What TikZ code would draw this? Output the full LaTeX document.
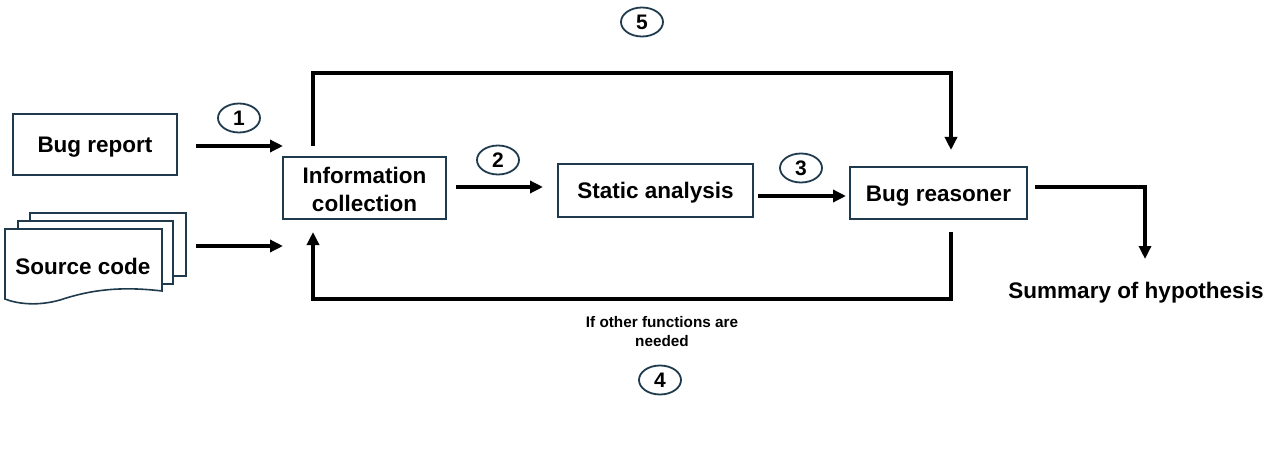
\documentclass[tikz,border=0pt]{standalone}
\usepackage{fontspec}
\setmainfont{Liberation Sans}
\usetikzlibrary{arrows.meta,shapes.geometric}
\definecolor{edge}{HTML}{1F3A4D}
\tikzset{
  box/.style={draw=edge, line width=1.8pt, fill=white, font=\bfseries\fontsize{22.5}{26}\selectfont, inner sep=0pt, align=center, text height=16pt, text depth=0pt},
  num/.style={draw=edge, line width=1.8pt, ellipse, minimum width=42pt, minimum height=29pt, inner sep=0pt, font=\bfseries\fontsize{21}{24}\selectfont},
  conn/.style={line width=3.4pt, -{Triangle[length=13pt,width=12pt]}},
  lbl/.style={font=\bfseries\fontsize{22.5}{26}\selectfont, align=center},
}
\begin{document}
\begin{tikzpicture}[x=1pt,y=-1pt]
\useasboundingbox (0,0) rectangle (1281,473);
% Bug report
\node[box, minimum width=164pt, minimum height=61pt] (bug) at (95,144.5) {Bug report};
% Source code stack
\draw[edge, line width=1.6pt, fill=white] (30,213) rectangle (186,276);
\draw[edge, line width=1.6pt, fill=white] (18,221) rectangle (173,284);
\draw[edge, line width=1.6pt, fill=white] (5,229) -- (162,229) -- (162,291)
  .. controls (120,286) and (90,290) .. (60,300)
  .. controls (35,307) and (15,303) .. (5,299) -- cycle;
\node[lbl] (src) at (83,266) {Source code};
\coordinate (srcR) at (196,246);
\coordinate (bugR) at (196,146);
\coordinate (inA) at (283,146);
\coordinate (inB) at (283,246);
% Information collection
\node[draw=edge, line width=1.8pt, fill=white, minimum width=163pt, minimum height=62pt] (info) at (364.5,188) {};
\node[font=\bfseries\fontsize{22.5}{26}\selectfont, align=center] (infot) at (364.5,189) {Information\\[2pt]collection};
\node[box, minimum width=195pt, minimum height=53pt] (stat) at (655.5,190.5) {Static analysis};
\node[box, minimum width=177pt, minimum height=52pt] (reas) at (938.5,193) {Bug reasoner};
\node[lbl] (sum) at (1136,293) {Summary of hypothesis};
% numbers
\node[num] (n1) at (239,118) {1};
\node[num] (n2) at (498,160) {2};
\node[num] (n3) at (801,168) {3};
\node[num] (n5) at (642,22) {5};
\node[num] (n4) at (660,380) {4};
\node[font=\bfseries\fontsize{15.3}{19}\selectfont, align=center] (cond) at (662,332) {If other functions are\\needed};
% arrows
\coordinate (a2s) at (456,187);
\coordinate (a2e) at (543,187);
\coordinate (a3s) at (758,196);
\coordinate (a3e) at (846,196);
\draw[conn] (bugR) -- (inA);
\draw[conn] (srcR) -- (inB);
\draw[conn] (a2s) -- (a2e);
\draw[conn] (a3s) -- (a3e);
% loop 5
\coordinate (l5a) at (313,146);
\coordinate (l5b) at (313,73);
\coordinate (l5c) at (951,73);
\coordinate (l5d) at (951,150);
\draw[conn, line join=miter] (l5a) -- (l5b) -- (l5c) -- (l5d);
% loop 4
\coordinate (l4a) at (951,232);
\coordinate (l4b) at (951,299);
\coordinate (l4c) at (313,299);
\coordinate (l4d) at (313,232);
\draw[conn, line join=miter] (l4a) -- (l4b) -- (l4c) -- (l4d);
% output
\coordinate (o1) at (1035,187);
\coordinate (o2) at (1145,187);
\coordinate (o3) at (1145,259);
\draw[conn, line join=miter] (o1) -- (o2) -- (o3);
\end{tikzpicture}
\end{document}
